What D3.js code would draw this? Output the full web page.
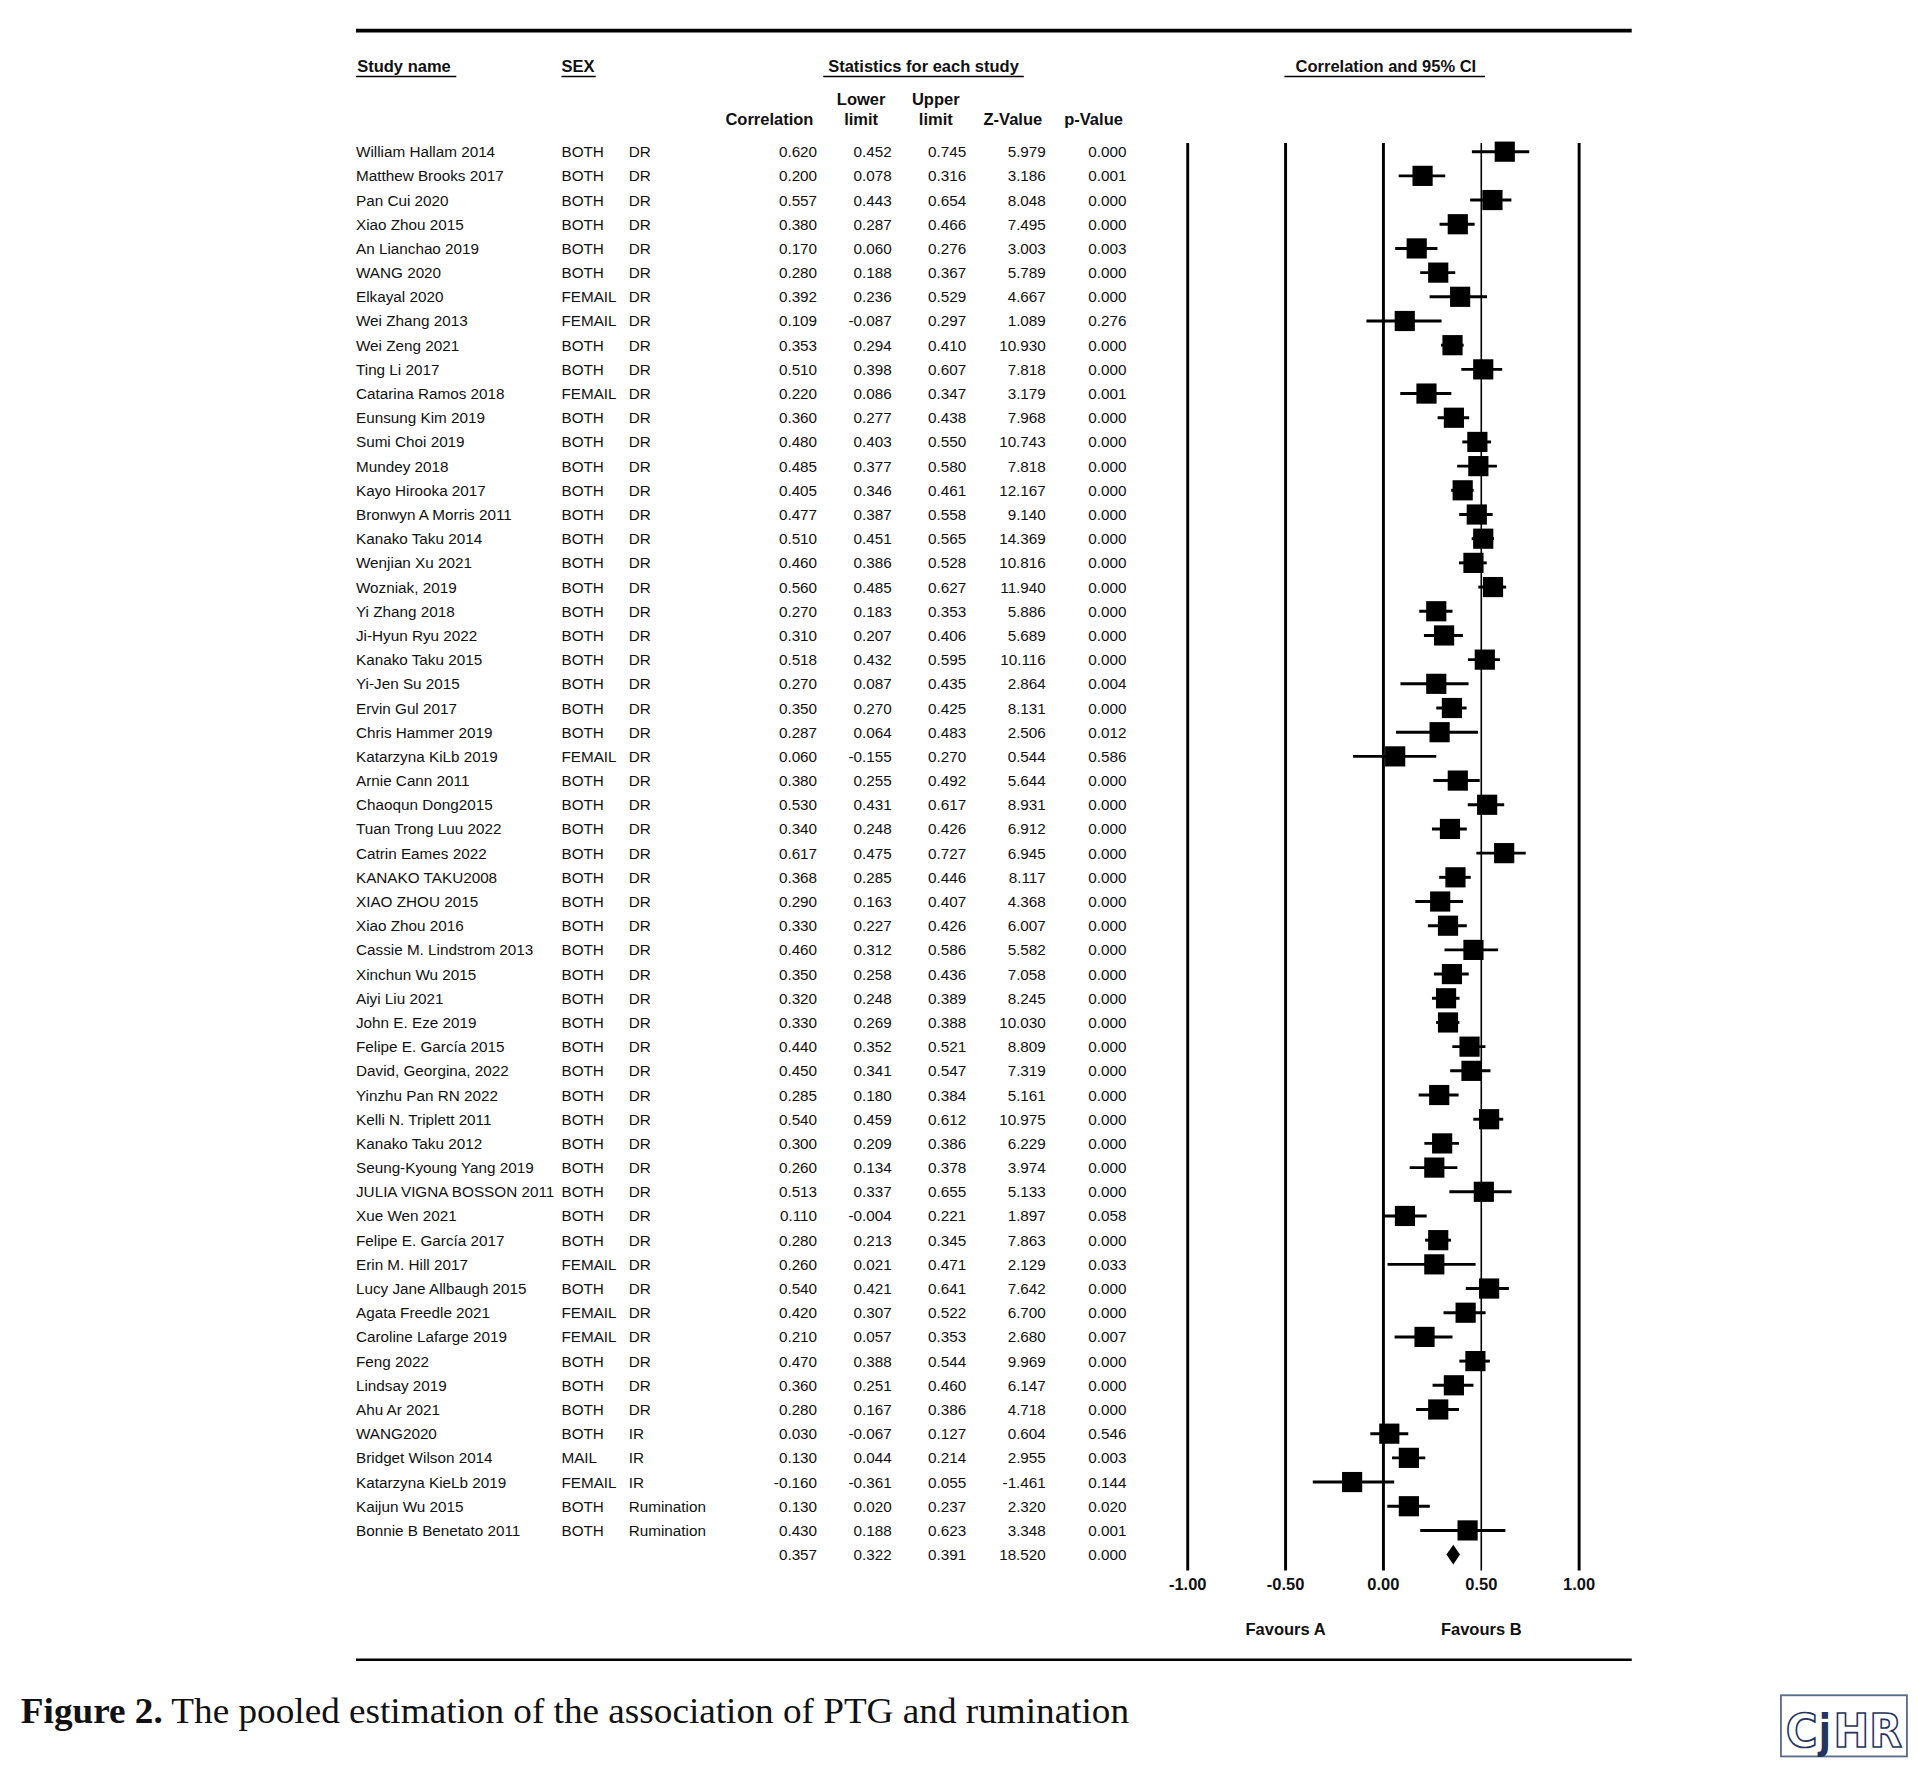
<!DOCTYPE html>
<html>
<head>
<meta charset="utf-8">
<script src="https://cdn.jsdelivr.net/npm/d3@7/dist/d3.min.js"></script>
<style>
  body { margin: 0; background: #fff; }
  svg { display: block; }
  text { font-family: "Liberation Sans", Arial, sans-serif; fill: #111; }
</style>
</head>
<body>
<div id="chart"></div>
<script>
// study data
var studies = ["William Hallam 2014","Matthew Brooks 2017","Pan Cui 2020","Xiao Zhou 2015","An Lianchao 2019","WANG 2020","Elkayal 2020","Wei Zhang 2013","Wei Zeng 2021","Ting Li 2017","Catarina Ramos 2018","Eunsung Kim 2019","Sumi Choi 2019","Mundey 2018","Kayo Hirooka 2017","Bronwyn A Morris 2011","Kanako Taku 2014","Wenjian Xu 2021","Wozniak, 2019","Yi Zhang 2018","Ji-Hyun Ryu 2022","Kanako Taku 2015","Yi-Jen Su 2015","Ervin Gul 2017","Chris Hammer 2019","Katarzyna KiLb 2019","Arnie Cann 2011","Chaoqun Dong2015","Tuan Trong Luu 2022","Catrin Eames 2022","KANAKO TAKU2008","XIAO ZHOU 2015","Xiao Zhou 2016","Cassie M. Lindstrom 2013","Xinchun Wu  2015","Aiyi Liu 2021","John E. Eze 2019","Felipe E. García 2015","David, Georgina, 2022","Yinzhu Pan RN 2022","Kelli N. Triplett 2011","Kanako Taku 2012","Seung-Kyoung Yang 2019","JULIA VIGNA BOSSON 2011","Xue Wen 2021","Felipe E. García 2017","Erin M. Hill 2017","Lucy Jane Allbaugh 2015","Agata Freedle 2021","Caroline Lafarge 2019","Feng 2022","Lindsay 2019","Ahu Ar 2021","WANG2020","Bridget Wilson 2014","Katarzyna KieLb 2019","Kaijun Wu 2015","Bonnie B Benetato 2011"];
var sex = ["BOTH","BOTH","BOTH","BOTH","BOTH","BOTH","FEMAIL","FEMAIL","BOTH","BOTH","FEMAIL","BOTH","BOTH","BOTH","BOTH","BOTH","BOTH","BOTH","BOTH","BOTH","BOTH","BOTH","BOTH","BOTH","BOTH","FEMAIL","BOTH","BOTH","BOTH","BOTH","BOTH","BOTH","BOTH","BOTH","BOTH","BOTH","BOTH","BOTH","BOTH","BOTH","BOTH","BOTH","BOTH","BOTH","BOTH","BOTH","FEMAIL","BOTH","FEMAIL","FEMAIL","BOTH","BOTH","BOTH","BOTH","MAIL","FEMAIL","BOTH","BOTH"];
var rumType = ["DR","DR","DR","DR","DR","DR","DR","DR","DR","DR","DR","DR","DR","DR","DR","DR","DR","DR","DR","DR","DR","DR","DR","DR","DR","DR","DR","DR","DR","DR","DR","DR","DR","DR","DR","DR","DR","DR","DR","DR","DR","DR","DR","DR","DR","DR","DR","DR","DR","DR","DR","DR","DR","IR","IR","IR","Rumination","Rumination"];
var correlation = [0.620,0.200,0.557,0.380,0.170,0.280,0.392,0.109,0.353,0.510,0.220,0.360,0.480,0.485,0.405,0.477,0.510,0.460,0.560,0.270,0.310,0.518,0.270,0.350,0.287,0.060,0.380,0.530,0.340,0.617,0.368,0.290,0.330,0.460,0.350,0.320,0.330,0.440,0.450,0.285,0.540,0.300,0.260,0.513,0.110,0.280,0.260,0.540,0.420,0.210,0.470,0.360,0.280,0.030,0.130,-0.160,0.130,0.430];
var lower = [0.452,0.078,0.443,0.287,0.060,0.188,0.236,-0.087,0.294,0.398,0.086,0.277,0.403,0.377,0.346,0.387,0.451,0.386,0.485,0.183,0.207,0.432,0.087,0.270,0.064,-0.155,0.255,0.431,0.248,0.475,0.285,0.163,0.227,0.312,0.258,0.248,0.269,0.352,0.341,0.180,0.459,0.209,0.134,0.337,-0.004,0.213,0.021,0.421,0.307,0.057,0.388,0.251,0.167,-0.067,0.044,-0.361,0.020,0.188];
var upper = [0.745,0.316,0.654,0.466,0.276,0.367,0.529,0.297,0.410,0.607,0.347,0.438,0.550,0.580,0.461,0.558,0.565,0.528,0.627,0.353,0.406,0.595,0.435,0.425,0.483,0.270,0.492,0.617,0.426,0.727,0.446,0.407,0.426,0.586,0.436,0.389,0.388,0.521,0.547,0.384,0.612,0.386,0.378,0.655,0.221,0.345,0.471,0.641,0.522,0.353,0.544,0.460,0.386,0.127,0.214,0.055,0.237,0.623];
var zValue = [5.979,3.186,8.048,7.495,3.003,5.789,4.667,1.089,10.930,7.818,3.179,7.968,10.743,7.818,12.167,9.140,14.369,10.816,11.940,5.886,5.689,10.116,2.864,8.131,2.506,0.544,5.644,8.931,6.912,6.945,8.117,4.368,6.007,5.582,7.058,8.245,10.030,8.809,7.319,5.161,10.975,6.229,3.974,5.133,1.897,7.863,2.129,7.642,6.700,2.680,9.969,6.147,4.718,0.604,2.955,-1.461,2.320,3.348];
var pValue = [0.000,0.001,0.000,0.000,0.003,0.000,0.000,0.276,0.000,0.000,0.001,0.000,0.000,0.000,0.000,0.000,0.000,0.000,0.000,0.000,0.000,0.000,0.004,0.000,0.012,0.586,0.000,0.000,0.000,0.000,0.000,0.000,0.000,0.000,0.000,0.000,0.000,0.000,0.000,0.000,0.000,0.000,0.000,0.000,0.058,0.000,0.033,0.000,0.000,0.007,0.000,0.000,0.000,0.546,0.003,0.144,0.020,0.001];
var pooled = [0.357, 0.322, 0.391, 18.520, 0.000];
var ticks = [-1, -0.5, 0, 0.5, 1];

var rows = studies.map(function (name, i) {
    return {name: name, sex: sex[i], type: rumType[i],
        r: correlation[i], lo: lower[i], hi: upper[i], z: zValue[i], p: pValue[i]};
});

var svg = d3.select("#chart").append("svg")
    .attr("width", 1918).attr("height", 1776)
    .attr("viewBox", "0 0 1568 1452");

var y = d3.scaleLinear().domain([0, rows.length]).range([124, 1271]);
var x = d3.scaleLinear().domain([-1, 1]).range([971, 1291]);
// plain hyphen for minus, like the original table
var loc = d3.formatLocale({decimal: ".", thousands: ",", grouping: [3], currency: ["", ""], minus: "-"});
var f3 = loc.format(".3f");
var f2 = loc.format(".2f");
var fs = 12.5, fb = 13.5;

// rules
svg.append("line").attr("x1", 291).attr("x2", 1334).attr("y1", 25).attr("y2", 25)
    .attr("stroke", "#000").attr("stroke-width", 3);
svg.append("line").attr("x1", 291).attr("x2", 1334).attr("y1", 1357).attr("y2", 1357)
    .attr("stroke", "#000").attr("stroke-width", 2);

// group headers with underline
function header(label, xPos, anchor, u0, u1) {
    svg.append("text").attr("x", xPos).attr("y", 59).attr("text-anchor", anchor)
        .attr("font-size", fb).attr("font-weight", "bold").text(label);
    svg.append("line").attr("x1", u0).attr("x2", u1).attr("y1", 62.5).attr("y2", 62.5)
        .attr("stroke", "#000").attr("stroke-width", 1.2);
}
header("Study name", 292, "start", 291, 373);
header("SEX", 459, "start", 459, 487);
header("Statistics for each study", 755, "middle", 673, 837);
header("Correlation and 95% CI", 1133, "middle", 1050, 1214);

// column heads
var cols = [
    {key: "r", x: 668, head: ["Correlation"]},
    {key: "lo", x: 729, head: ["Lower", "limit"]},
    {key: "hi", x: 790, head: ["Upper", "limit"]},
    {key: "z", x: 855, head: ["Z-Value"]},
    {key: "p", x: 921, head: ["p-Value"]}
];
cols.forEach(function (c) {
    c.head.forEach(function (h, k) {
        var t = svg.append("text").attr("font-size", fb).attr("font-weight", "bold")
            .attr("y", 102 - (c.head.length - 1 - k) * 16).text(h);
        if (c.head.length > 1) t.attr("x", c.x - 25).attr("text-anchor", "middle");
        else t.attr("x", c.x - 3).attr("text-anchor", "end");
    });
});

// table rows
var tr = svg.append("g").selectAll("g").data(rows).enter().append("g")
    .attr("transform", function (d, i) { return "translate(0," + (y(i) + 4.5) + ")"; })
    .attr("font-size", fs);
tr.append("text").attr("x", 291).text(function (d) { return d.name; });
tr.append("text").attr("x", 459).text(function (d) { return d.sex; });
tr.append("text").attr("x", 514).text(function (d) { return d.type; });
cols.forEach(function (c) {
    tr.append("text").attr("x", c.x).attr("text-anchor", "end")
        .text(function (d) { return f3(d[c.key]); });
});
// pooled row
pooled.forEach(function (v, k) {
    svg.append("text").attr("x", cols[k].x).attr("y", y(rows.length) + 4.5)
        .attr("text-anchor", "end").attr("font-size", fs).text(f3(v));
});

// forest reference lines
svg.append("g").selectAll("line").data(ticks).enter().append("line")
    .attr("x1", x).attr("x2", x).attr("y1", 117).attr("y2", 1284)
    .attr("stroke", "#000").attr("stroke-width", function (d) { return d === 0.5 ? 1.3 : 2.4; });
svg.append("g").selectAll("text").data(ticks).enter().append("text")
    .attr("x", x).attr("y", 1300).attr("text-anchor", "middle")
    .attr("font-size", fb).attr("font-weight", "bold")
    .text(function (d) { return f2(d); });
svg.append("text").attr("x", x(-0.5)).attr("y", 1337).attr("text-anchor", "middle")
    .attr("font-size", fb).attr("font-weight", "bold").text("Favours A");
svg.append("text").attr("x", x(0.5)).attr("y", 1337).attr("text-anchor", "middle")
    .attr("font-size", fb).attr("font-weight", "bold").text("Favours B");

// whiskers + boxes
var fr = svg.append("g").selectAll("g").data(rows).enter().append("g");
fr.append("line")
    .attr("x1", function (d) { return x(d.lo); }).attr("x2", function (d) { return x(d.hi); })
    .attr("y1", function (d, i) { return y(i); }).attr("y2", function (d, i) { return y(i); })
    .attr("stroke", "#000").attr("stroke-width", 2.4);
var bs = 16.5;
fr.append("rect")
    .attr("x", function (d) { return x(d.r) - bs / 2; })
    .attr("y", function (d, i) { return y(i) - bs / 2; })
    .attr("width", bs).attr("height", bs).attr("fill", "#000");

// pooled diamond
var yd = y(rows.length);
svg.append("path")
    .attr("d", "M" + x(pooled[1]) + "," + yd + "L" + x(pooled[0]) + "," + (yd - 8) +
        "L" + x(pooled[2]) + "," + yd + "L" + x(pooled[0]) + "," + (yd + 8) + "Z")
    .attr("fill", "#000");

// caption
var cap = svg.append("text").attr("x", 17).attr("y", 1409)
    .style("font-family", "'Liberation Serif', 'DejaVu Serif', serif").attr("font-size", 28.5)
    .attr("textLength", 906).attr("lengthAdjust", "spacingAndGlyphs");
cap.append("tspan").attr("font-weight", "bold").text("Figure 2.");
cap.append("tspan").text(" The pooled estimation of the association of PTG and rumination");

// logo
svg.append("rect").attr("x", 1456).attr("y", 1386).attr("width", 103).attr("height", 50)
    .attr("fill", "#fff").attr("stroke", "#5b6b8c").attr("stroke-width", 1.5);
var logoParts = [
    {t: "C", x: 1460, w: 26, solid: false},
    {t: "j", x: 1487, w: 10, solid: true},
    {t: "HR", x: 1499, w: 56, solid: false}
];
svg.append("g").selectAll("text").data(logoParts).enter().append("text")
    .attr("x", function (d) { return d.x; }).attr("y", 1428)
    .attr("textLength", function (d) { return d.w; }).attr("lengthAdjust", "spacingAndGlyphs")
    .style("font-family", "'DejaVu Sans', sans-serif").attr("font-size", 38).attr("font-weight", "bold")
    .style("fill", function (d) { return d.solid ? "#26335e" : "#fff"; })
    .attr("stroke", "#26335e").attr("stroke-width", function (d) { return d.solid ? 0 : 1.4; })
    .text(function (d) { return d.t; });
</script>
</body>
</html>
